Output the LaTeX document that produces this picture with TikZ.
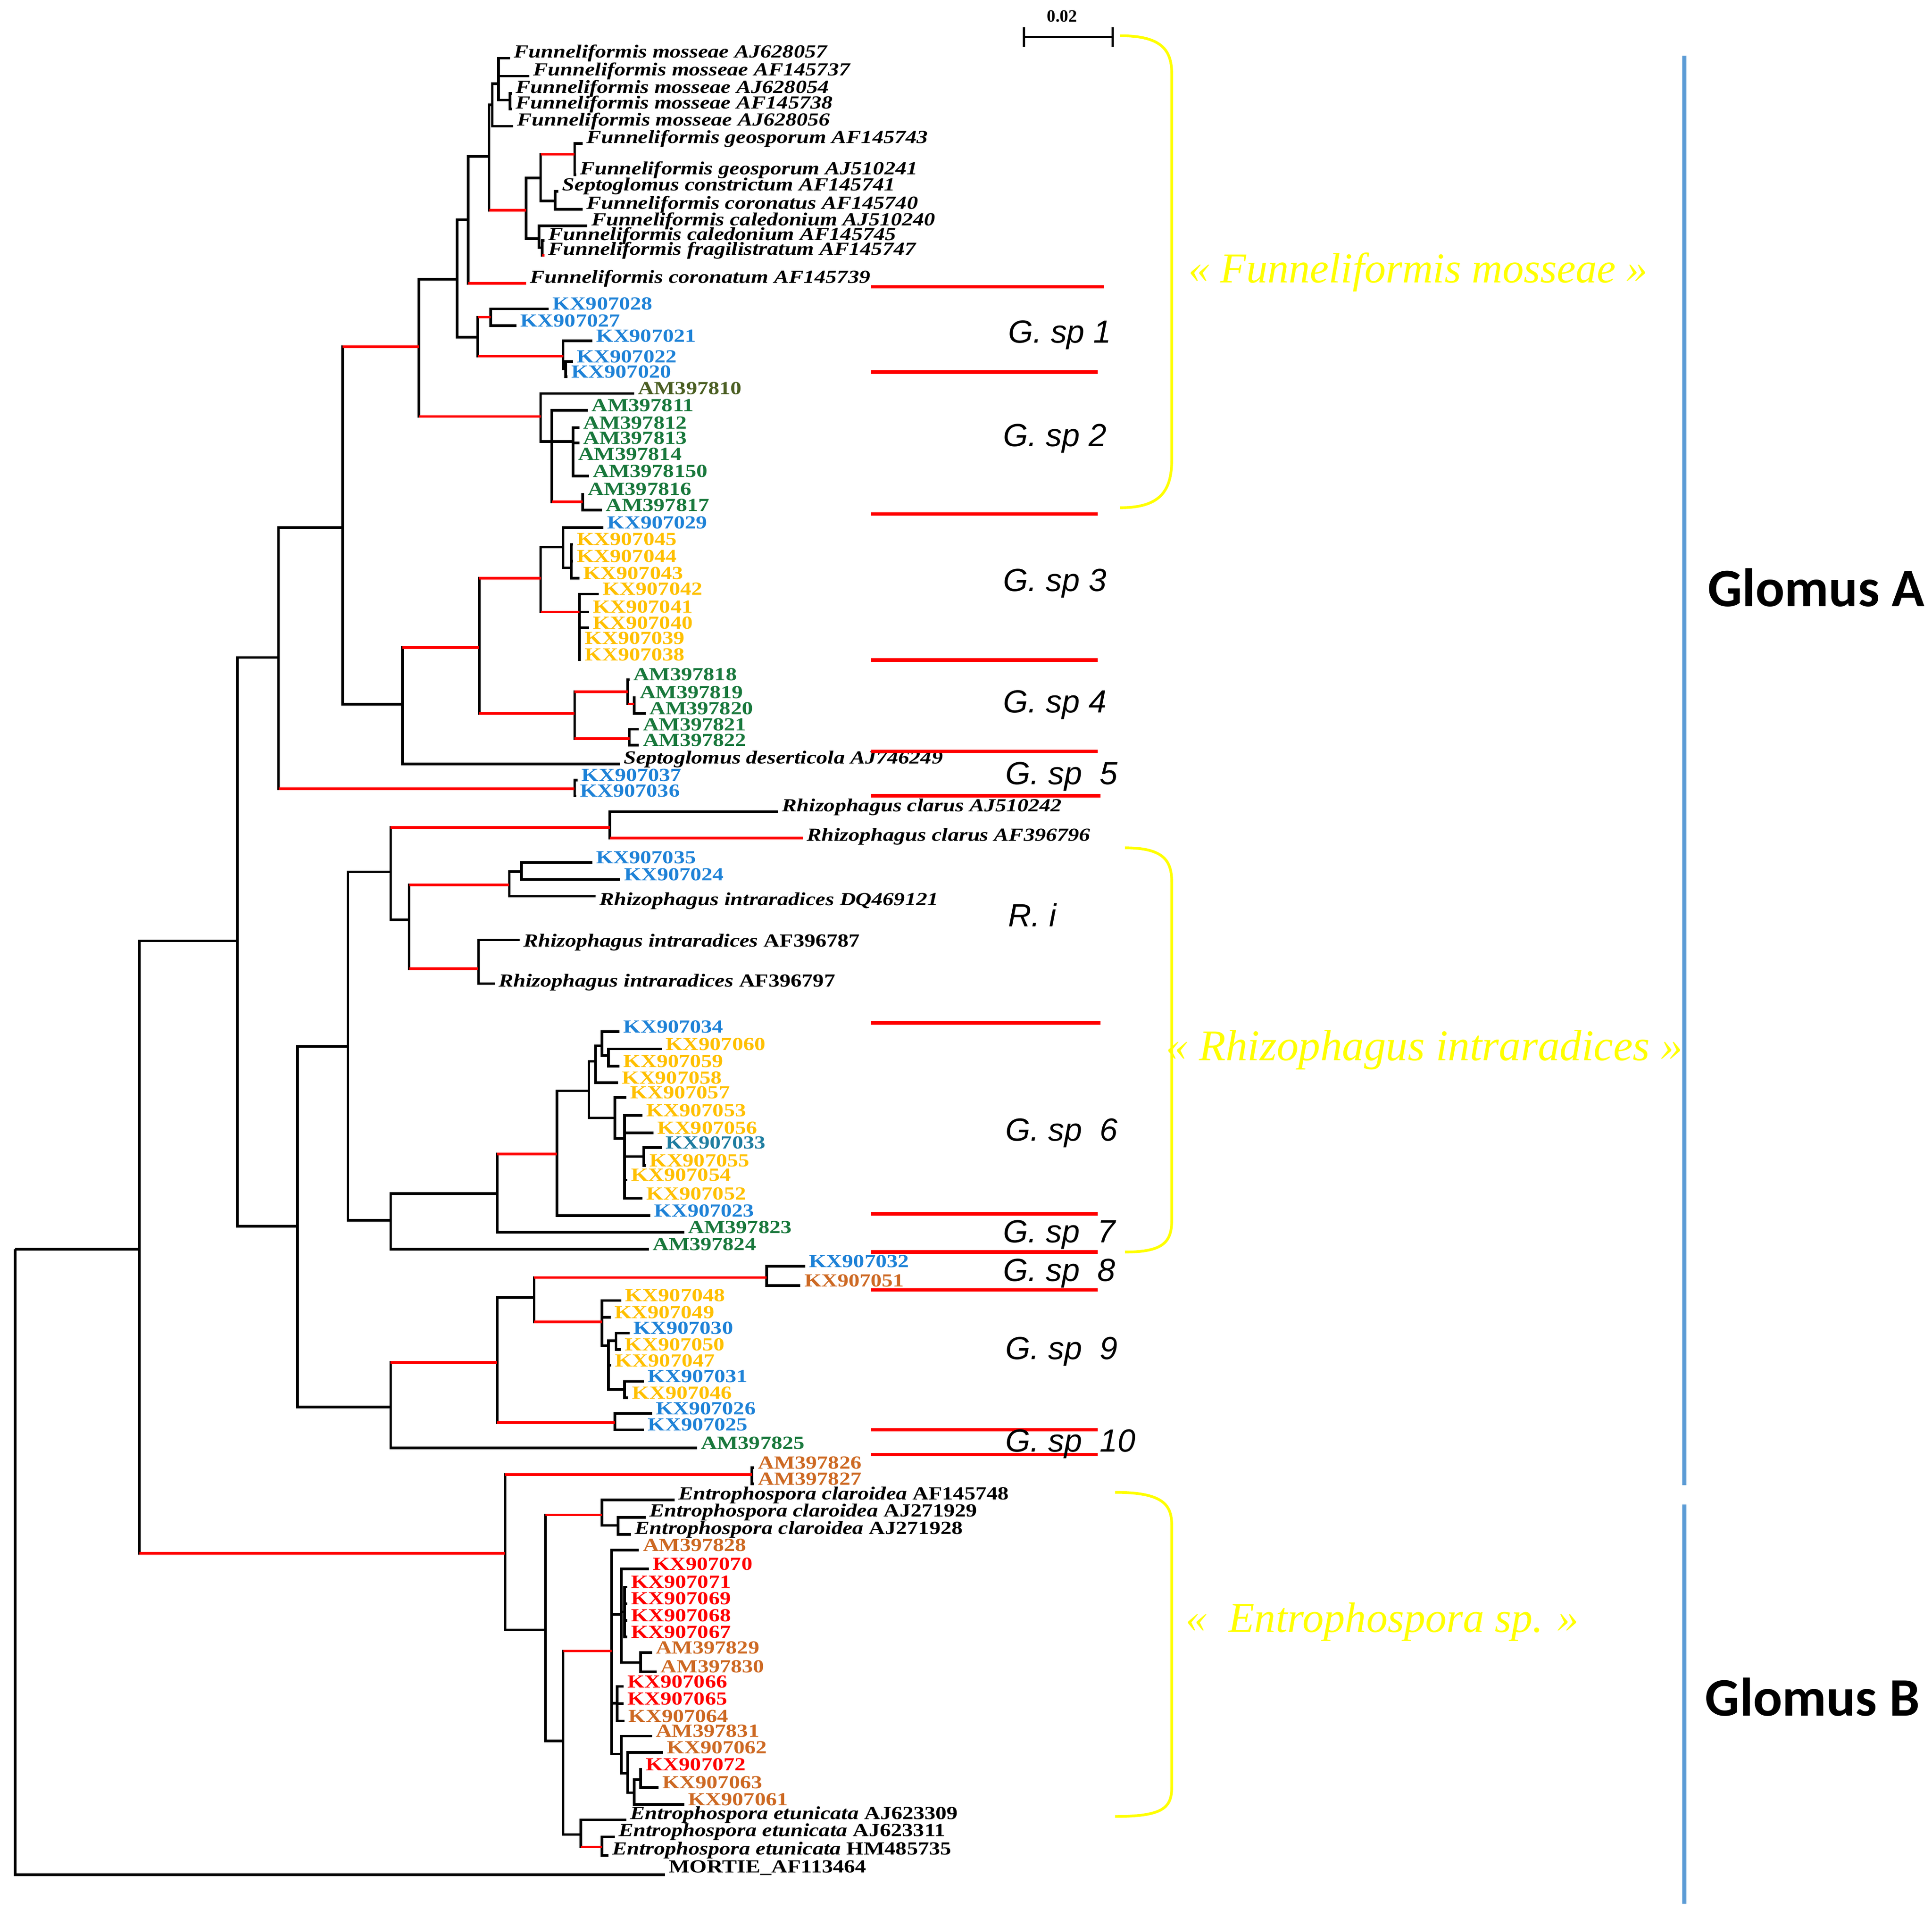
\documentclass[tikz,border=0pt]{standalone}
\usepackage{fontspec}
\usepackage{tikz}
\setmainfont{Liberation Serif}
\newfontfamily\tipfont{Liberation Serif}[FakeStretch=1.2]
\newfontfamily\gspfont{Liberation Sans}
\newfontfamily\glomfont{Carlito}
\definecolor{isoblue}{RGB}{30,130,215}
\definecolor{isoteal}{RGB}{30,125,160}
\definecolor{isoyellow}{RGB}{255,192,0}
\definecolor{isogreen}{RGB}{25,120,60}
\definecolor{isoolive}{RGB}{75,95,35}
\definecolor{isoorange}{RGB}{205,105,35}
\definecolor{isored}{RGB}{255,0,0}
\definecolor{cladeyellow}{RGB}{255,255,0}
\definecolor{groupblue}{RGB}{91,155,213}
\newcommand{\tipsize}{\fontsize{15}{16}\selectfont}
\newcommand{\taxon}[1]{\textit{#1}}
\tikzstyle{branch} = [
    line width=2.1pt,
    draw=black
]
\tikzstyle{hot} = [
    line width=2.1pt,
    draw=red
]
\tikzstyle{tip} = [
    anchor=west,
    inner sep=1pt,
    xshift=2pt,
    yshift=4pt,
    font=\tipfont\bfseries\tipsize
]
\tikzstyle{bluetip} = [tip, text=isoblue]
\tikzstyle{tealtip} = [tip, text=isoteal]
\tikzstyle{yeltip} = [tip, text=isoyellow]
\tikzstyle{greentip} = [tip, text=isogreen]
\tikzstyle{olivetip} = [tip, text=isoolive]
\tikzstyle{orangetip} = [tip, text=isoorange]
\tikzstyle{redtip} = [tip, text=isored]
\tikzstyle{sepline} = [
    line width=2.8pt,
    draw=red
]
\tikzstyle{gsp} = [
    anchor=west,
    inner sep=0pt,
    font=\gspfont\itshape\fontsize{26}{28}\selectfont
]
\tikzstyle{clade} = [
    text=cladeyellow,
    inner sep=0pt,
    font=\itshape\fontsize{34.5}{36}\selectfont
]
\tikzstyle{brace} = [
    line width=2.2pt,
    draw=cladeyellow
]
\tikzstyle{group} = [
    inner sep=0pt,
    font=\glomfont\bfseries\fontsize{44}{48}\selectfont
]
\tikzstyle{groupline} = [
    line width=3.6pt,
    draw=groupblue
]
\tikzstyle{scalebar} = [
    line width=2pt,
    draw=black
]
\begin{document}
\begin{tikzpicture}[x=1pt, y=-1pt]
        \path[use as bounding box, fill=white] (0,0) rectangle (1568,1556.4);

        \coordinate (n01) at (12.4,1013.6);
        \coordinate (n02) at (113,1013.6);
        \coordinate (n03) at (192.5,763.5);
        \coordinate (n04) at (226,533.5);
        \coordinate (n05) at (278,428);
        \coordinate (n06) at (340,281.5);
        \coordinate (n07) at (371,226.5);
        \coordinate (n08) at (380,178.5);
        \coordinate (n09) at (397,127);
        \coordinate (n10) at (399.5,85);
        \coordinate (n11) at (404.7,68);
        \coordinate (n12) at (413.9,81.2);
        \coordinate (n13) at (427,170.5);
        \coordinate (n14) at (438.8,144.5);
        \coordinate (n15) at (466.3,125.2);
        \coordinate (n16) at (450.6,163.2);
        \coordinate (n17) at (437.5,193.8);
        \coordinate (n18) at (440,201);
        \coordinate (n19) at (387.7,273.5);
        \coordinate (n20) at (398.2,257.4);
        \coordinate (n21) at (457.1,289);
        \coordinate (n22) at (459,299.5);
        \coordinate (n23) at (438.8,338);
        \coordinate (n24) at (447.9,358.3);
        \coordinate (n25) at (465,358.3);
        \coordinate (n26) at (472.8,407.2);
        \coordinate (n27) at (326.5,571.5);
        \coordinate (n28) at (389,525.5);
        \coordinate (n29) at (438.8,469.1);
        \coordinate (n30) at (457.1,444);
        \coordinate (n31) at (463.6,460.8);
        \coordinate (n32) at (470.2,496.6);
        \coordinate (n33) at (466.3,578.8);
        \coordinate (n34) at (509.5,561.3);
        \coordinate (n35) at (514.7,571.2);
        \coordinate (n36) at (510.8,599.4);
        \coordinate (n37) at (466.3,640);
        \coordinate (n38) at (241.4,995);
        \coordinate (n39) at (282.3,849);
        \coordinate (n40) at (317,707.5);
        \coordinate (n41) at (495,671.5);
        \coordinate (n42) at (332,746.5);
        \coordinate (n43) at (413.3,718);
        \coordinate (n44) at (423.3,707.3);
        \coordinate (n45) at (388.3,786);
        \coordinate (n46) at (317,990.3);
        \coordinate (n47) at (403.4,968.6);
        \coordinate (n48) at (451.9,936.5);
        \coordinate (n49) at (478,885.2);
        \coordinate (n50) at (483.3,861.2);
        \coordinate (n51) at (488.5,848.5);
        \coordinate (n52) at (493.8,856.5);
        \coordinate (n53) at (499,907.2);
        \coordinate (n54) at (506.9,923.8);
        \coordinate (n55) at (522.6,938.5);
        \coordinate (n56) at (317,1141.7);
        \coordinate (n57) at (403.4,1105.5);
        \coordinate (n58) at (433.5,1052.9);
        \coordinate (n59) at (622.1,1036.7);
        \coordinate (n60) at (488.5,1072.8);
        \coordinate (n61) at (493.8,1092);
        \coordinate (n62) at (500,1088);
        \coordinate (n63) at (506.9,1127.6);
        \coordinate (n64) at (499,1154.4);
        \coordinate (n65) at (410,1260.5);
        \coordinate (n66) at (610.3,1196.5);
        \coordinate (n67) at (442.7,1322.5);
        \coordinate (n68) at (488.5,1229.2);
        \coordinate (n69) at (501.6,1237.8);
        \coordinate (n70) at (457.1,1412.6);
        \coordinate (n71) at (496.4,1339.8);
        \coordinate (n72) at (504.2,1310);
        \coordinate (n73) at (506.9,1308);
        \coordinate (n74) at (520,1349.1);
        \coordinate (n75) at (501,1382);
        \coordinate (n76) at (504.2,1423.3);
        \coordinate (n77) at (509.5,1439);
        \coordinate (n78) at (514.7,1454.7);
        \coordinate (n79) at (520,1444);
        \coordinate (n80) at (471.5,1488.6);
        \coordinate (n81) at (488.5,1498.7);

        \path (414,47.2) coordinate (aj628057) node[tip] (aj628057-l) {\taxon{Funneliformis mosseae AJ628057}};
        \path (429.6,61.8) coordinate (af145737) node[tip] (af145737-l) {\taxon{Funneliformis mosseae AF145737}};
        \path (415.5,75.8) coordinate (aj628054) node[tip] (aj628054-l) {\taxon{Funneliformis mosseae AJ628054}};
        \path (415.5,88.5) coordinate (af145738) node[tip] (af145738-l) {\taxon{Funneliformis mosseae AF145738}};
        \path (416.5,102.5) coordinate (aj628056) node[tip] (aj628056-l) {\taxon{Funneliformis mosseae AJ628056}};
        \path (472.8,116.5) coordinate (af145743) node[tip] (af145743-l) {\taxon{Funneliformis geosporum AF145743}};
        \path (467.5,141.8) coordinate (aj510241) node[tip] (aj510241-l) {\taxon{Funneliformis geosporum AJ510241}};
        \path (453.2,155.2) coordinate (af145741) node[tip] (af145741-l) {\taxon{Septoglomus constrictum AF145741}};
        \path (472.8,169.8) coordinate (af145740) node[tip] (af145740-l) {\taxon{Funneliformis coronatus AF145740}};
        \path (476.8,183.2) coordinate (aj510240) node[tip] (aj510240-l) {\taxon{Funneliformis caledonium AJ510240}};
        \path (442,195.2) coordinate (af145745) node[tip] (af145745-l) {\taxon{Funneliformis caledonium AF145745}};
        \path (442,207.2) coordinate (af145747) node[tip] (af145747-l) {\taxon{Funneliformis fragilistratum AF145747}};
        \path (427,230) coordinate (af145739) node[tip] (af145739-l) {\taxon{Funneliformis coronatum AF145739}};
        \path (445.3,250.6) coordinate (kx28) node[bluetip] (kx28-l) {KX907028};
        \path (419.1,264.2) coordinate (kx27) node[bluetip] (kx27-l) {KX907027};
        \path (480.7,276.6) coordinate (kx21) node[bluetip] (kx21-l) {KX907021};
        \path (465,293.3) coordinate (kx22) node[bluetip] (kx22-l) {KX907022};
        \path (460.5,305.7) coordinate (kx20) node[bluetip] (kx20-l) {KX907020};
        \path (514.7,319.3) coordinate (am10) node[olivetip] (am10-l) {AM397810};
        \path (476.9,332.9) coordinate (am11) node[greentip] (am11-l) {AM397811};
        \path (470.2,347.2) coordinate (am12) node[greentip] (am12-l) {AM397812};
        \path (470.2,359.5) coordinate (am13) node[greentip] (am13-l) {AM397813};
        \path (466,372.5) coordinate (am14) node[greentip] (am14-l) {AM397814};
        \path (478,386.2) coordinate (am150) node[greentip] (am150-l) {AM3978150};
        \path (474,401) coordinate (am16) node[greentip] (am16-l) {AM397816};
        \path (488.5,414) coordinate (am17) node[greentip] (am17-l) {AM397817};
        \path (489.8,428) coordinate (kx29) node[bluetip] (kx29-l) {KX907029};
        \path (465,441.7) coordinate (kx45) node[yeltip] (kx45-l) {KX907045};
        \path (465,455.4) coordinate (kx44) node[yeltip] (kx44-l) {KX907044};
        \path (470.2,469.1) coordinate (kx43) node[yeltip] (kx43-l) {KX907043};
        \path (485.9,482) coordinate (kx42) node[yeltip] (kx42-l) {KX907042};
        \path (478,496.6) coordinate (kx41) node[yeltip] (kx41-l) {KX907041};
        \path (478,509.5) coordinate (kx40) node[yeltip] (kx40-l) {KX907040};
        \path (471.5,521.7) coordinate (kx39) node[yeltip] (kx39-l) {KX907039};
        \path (471.5,535.4) coordinate (kx38) node[yeltip] (kx38-l) {KX907038};
        \path (510.8,551.4) coordinate (am18) node[greentip] (am18-l) {AM397818};
        \path (516,566) coordinate (am19) node[greentip] (am19-l) {AM397819};
        \path (523.9,578.8) coordinate (am20) node[greentip] (am20-l) {AM397820};
        \path (518.6,591.8) coordinate (am21) node[greentip] (am21-l) {AM397821};
        \path (518.6,604.7) coordinate (am22) node[greentip] (am22-l) {AM397822};
        \path (503,620) coordinate (aj746249) node[tip] (aj746249-l) {\taxon{Septoglomus deserticola AJ746249}};
        \path (468.9,633) coordinate (kx37) node[bluetip] (kx37-l) {KX907037};
        \path (467.5,645.9) coordinate (kx36) node[bluetip] (kx36-l) {KX907036};
        \path (631.6,658.8) coordinate (aj510242) node[tip] (aj510242-l) {\taxon{Rhizophagus clarus AJ510242}};
        \path (651.6,680) coordinate (af396796) node[tip, yshift=-3pt] (af396796-l) {\taxon{Rhizophagus clarus AF396796}};
        \path (480.6,699.9) coordinate (kx35) node[bluetip] (kx35-l) {KX907035};
        \path (503.3,713.6) coordinate (kx24) node[bluetip] (kx24-l) {KX907024};
        \path (483.3,727.2) coordinate (dq469121) node[tip, yshift=-8pt] (dq469121-l) {\taxon{Rhizophagus intraradices DQ469121}};
        \path (421.6,762.7) coordinate (af396787) node[tip, yshift=-6pt] (af396787-l) {\taxon{Rhizophagus intraradices} AF396787};
        \path (401.6,798.2) coordinate (af396797) node[tip, yshift=-3pt] (af396797-l) {\taxon{Rhizophagus intraradices} AF396797};
        \path (502.9,837.2) coordinate (kx34) node[bluetip] (kx34-l) {KX907034};
        \path (537,851.2) coordinate (kx60) node[yeltip] (kx60-l) {KX907060};
        \path (502.9,865.2) coordinate (kx59) node[yeltip] (kx59-l) {KX907059};
        \path (501.6,878.5) coordinate (kx58) node[yeltip] (kx58-l) {KX907058};
        \path (508.2,890.5) coordinate (kx57) node[yeltip] (kx57-l) {KX907057};
        \path (521.3,905.2) coordinate (kx53) node[yeltip] (kx53-l) {KX907053};
        \path (530.4,919.2) coordinate (kx56) node[yeltip] (kx56-l) {KX907056};
        \path (537,931.2) coordinate (kx33) node[tealtip] (kx33-l) {KX907033};
        \path (524,945.8) coordinate (kx55) node[yeltip] (kx55-l) {KX907055};
        \path (509,957.5) coordinate (kx54) node[yeltip] (kx54-l) {KX907054};
        \path (521.3,972.5) coordinate (kx52) node[yeltip] (kx52-l) {KX907052};
        \path (527.8,986.5) coordinate (kx23) node[bluetip] (kx23-l) {KX907023};
        \path (555.3,999.8) coordinate (am23) node[greentip] (am23-l) {AM397823};
        \path (526.5,1013.6) coordinate (am24) node[greentip] (am24-l) {AM397824};
        \path (653.5,1027.6) coordinate (kx32) node[bluetip] (kx32-l) {KX907032};
        \path (649.6,1043.3) coordinate (kx51) node[orangetip] (kx51-l) {KX907051};
        \path (504.2,1055.3) coordinate (kx48) node[yeltip] (kx48-l) {KX907048};
        \path (495.5,1069) coordinate (kx49) node[yeltip] (kx49-l) {KX907049};
        \path (510.8,1081.8) coordinate (kx30) node[bluetip] (kx30-l) {KX907030};
        \path (504,1095) coordinate (kx50) node[yeltip] (kx50-l) {KX907050};
        \path (496,1108) coordinate (kx47) node[yeltip] (kx47-l) {KX907047};
        \path (522.6,1121) coordinate (kx31) node[bluetip] (kx31-l) {KX907031};
        \path (510,1134.3) coordinate (kx46) node[yeltip] (kx46-l) {KX907046};
        \path (529.1,1146.9) coordinate (kx26) node[bluetip] (kx26-l) {KX907026};
        \path (522.6,1160.2) coordinate (kx25) node[bluetip] (kx25-l) {KX907025};
        \path (565.8,1175) coordinate (am25) node[greentip] (am25-l) {AM397825};
        \path (612,1191) coordinate (am26) node[orangetip] (am26-l) {AM397826};
        \path (612,1204) coordinate (am27) node[orangetip] (am27-l) {AM397827};
        \path (547.5,1217.2) coordinate (af145748) node[tip] (af145748-l) {\taxon{Entrophospora claroidea} AF145748};
        \path (523.9,1231.2) coordinate (aj271929) node[tip] (aj271929-l) {\taxon{Entrophospora claroidea} AJ271929};
        \path (512.1,1245.2) coordinate (aj271928) node[tip] (aj271928-l) {\taxon{Entrophospora claroidea} AJ271928};
        \path (518.6,1257.8) coordinate (am28) node[orangetip] (am28-l) {AM397828};
        \path (526.5,1273.1) coordinate (kx70) node[redtip] (kx70-l) {KX907070};
        \path (509,1287.8) coordinate (kx71) node[redtip] (kx71-l) {KX907071};
        \path (509,1301.3) coordinate (kx69) node[redtip] (kx69-l) {KX907069};
        \path (509,1314.8) coordinate (kx68) node[redtip] (kx68-l) {KX907068};
        \path (509,1328.3) coordinate (kx67) node[redtip] (kx67-l) {KX907067};
        \path (529.1,1341.1) coordinate (am29) node[orangetip] (am29-l) {AM397829};
        \path (533.1,1356.5) coordinate (am30) node[orangetip] (am30-l) {AM397830};
        \path (506,1368.5) coordinate (kx66) node[redtip] (kx66-l) {KX907066};
        \path (506,1382.5) coordinate (kx65) node[redtip] (kx65-l) {KX907065};
        \path (507,1396.5) coordinate (kx64) node[orangetip] (kx64-l) {KX907064};
        \path (529.1,1408.8) coordinate (am31) node[orangetip] (am31-l) {AM397831};
        \path (538.3,1422) coordinate (kx62) node[orangetip] (kx62-l) {KX907062};
        \path (521,1435.9) coordinate (kx72) node[redtip] (kx72-l) {KX907072};
        \path (534.4,1450.3) coordinate (kx63) node[orangetip] (kx63-l) {KX907063};
        \path (555.3,1464.1) coordinate (kx61) node[orangetip] (kx61-l) {KX907061};
        \path (508.2,1476.7) coordinate (aj623309) node[tip] (aj623309-l) {\taxon{Entrophospora etunicata} AJ623309};
        \path (499,1490.5) coordinate (aj623311) node[tip] (aj623311-l) {\taxon{Entrophospora etunicata} AJ623311};
        \path (493.8,1505.6) coordinate (hm485735) node[tip] (hm485735-l) {\taxon{Entrophospora etunicata} HM485735};
        \path (539.6,1521.3) coordinate (mortie) node[tip, yshift=1.5pt] (mortie-l) {MORTIE\_AF113464};

        \draw[branch] (n01) |- (n02) (n01) |- (mortie);
        \draw[branch] (n02) |- (n03) (n02) |- (n65);
        \draw[branch] (n03) |- (n04) (n03) |- (n38);
        \draw[branch] (n04) |- (n05) (n04) |- (n37);
        \draw[branch] (n05) |- (n06) (n05) |- (n27);
        \draw[branch] (n06) |- (n07) (n06) |- (n23);
        \draw[branch] (n07) |- (n08) (n07) |- (n19);
        \draw[branch] (n08) |- (n09) (n08) |- (af145739);
        \draw[branch] (n09) |- (n10) (n09) |- (n13);
        \draw[branch] (n10) |- (n11) (n10) |- (aj628056);
        \draw[branch] (n11) |- (aj628057) (n11) |- (af145737) (n11) |- (n12);
        \draw[branch] (n12) |- (aj628054) (n12) |- (af145738);
        \draw[branch] (n13) |- (n14) (n13) |- (n17);
        \draw[branch] (n14) |- (n15) (n14) |- (n16);
        \draw[branch] (n15) |- (af145743) (n15) |- (aj510241);
        \draw[branch] (n16) |- (af145741) (n16) |- (af145740);
        \draw[branch] (n17) |- (aj510240) (n17) |- (n18);
        \draw[branch] (n18) |- (af145745) (n18) |- (af145747);
        \draw[branch] (n19) |- (n20) (n19) |- (n21);
        \draw[branch] (n20) |- (kx28) (n20) |- (kx27);
        \draw[branch] (n21) |- (kx21) (n21) |- (n22);
        \draw[branch] (n22) |- (kx22) (n22) |- (kx20);
        \draw[branch] (n23) |- (am10) (n23) |- (n24);
        \draw[branch] (n24) |- (am11) (n24) |- (n25) (n24) |- (n26);
        \draw[branch] (n25) |- (am12) (n25) |- (am13) (n25) |- (am14) (n25) |- (am150);
        \draw[branch] (n26) |- (am16) (n26) |- (am17);
        \draw[branch] (n27) |- (n28) (n27) |- (aj746249);
        \draw[branch] (n28) |- (n29) (n28) |- (n33);
        \draw[branch] (n29) |- (n30) (n29) |- (n32);
        \draw[branch] (n30) |- (kx29) (n30) |- (n31);
        \draw[branch] (n31) |- (kx45) (n31) |- (kx44) (n31) |- (kx43);
        \draw[branch] (n32) |- (kx42) (n32) |- (kx41) (n32) |- (kx40) (n32) |- (kx39) (n32) |- (kx38);
        \draw[branch] (n33) |- (n34) (n33) |- (n36);
        \draw[branch] (n34) |- (am18) (n34) |- (n35);
        \draw[branch] (n35) |- (am19) (n35) |- (am20);
        \draw[branch] (n36) |- (am21) (n36) |- (am22);
        \draw[branch] (n37) |- (kx37) (n37) |- (kx36);
        \draw[branch] (n38) |- (n39) (n38) |- (n56);
        \draw[branch] (n39) |- (n40) (n39) |- (n46);
        \draw[branch] (n40) |- (n41) (n40) |- (n42);
        \draw[branch] (n41) |- (aj510242) (n41) |- (af396796);
        \draw[branch] (n42) |- (n43) (n42) |- (n45);
        \draw[branch] (n43) |- (n44) (n43) |- (dq469121);
        \draw[branch] (n44) |- (kx35) (n44) |- (kx24);
        \draw[branch] (n45) |- (af396787) (n45) |- (af396797);
        \draw[branch] (n46) |- (n47) (n46) |- (am24);
        \draw[branch] (n47) |- (n48) (n47) |- (am23);
        \draw[branch] (n48) |- (n49) (n48) |- (kx23);
        \draw[branch] (n49) |- (n50) (n49) |- (n53);
        \draw[branch] (n50) |- (n51) (n50) |- (kx58);
        \draw[branch] (n51) |- (kx34) (n51) |- (n52);
        \draw[branch] (n52) |- (kx60) (n52) |- (kx59);
        \draw[branch] (n53) |- (kx57) (n53) |- (n54);
        \draw[branch] (n54) |- (kx53) (n54) |- (kx56) (n54) |- (n55) (n54) |- (kx54) (n54) |- (kx52);
        \draw[branch] (n55) |- (kx33) (n55) |- (kx55);
        \draw[branch] (n56) |- (n57) (n56) |- (am25);
        \draw[branch] (n57) |- (n58) (n57) |- (n64);
        \draw[branch] (n58) |- (n59) (n58) |- (n60);
        \draw[branch] (n59) |- (kx32) (n59) |- (kx51);
        \draw[branch] (n60) |- (kx48) (n60) |- (kx49) (n60) |- (n61);
        \draw[branch] (n61) |- (n62) (n61) |- (kx47) (n61) |- (n63);
        \draw[branch] (n62) |- (kx30) (n62) |- (kx50);
        \draw[branch] (n63) |- (kx31) (n63) |- (kx46);
        \draw[branch] (n64) |- (kx26) (n64) |- (kx25);
        \draw[branch] (n65) |- (n66) (n65) |- (n67);
        \draw[branch] (n66) |- (am26) (n66) |- (am27);
        \draw[branch] (n67) |- (n68) (n67) |- (n70);
        \draw[branch] (n68) |- (af145748) (n68) |- (n69);
        \draw[branch] (n69) |- (aj271929) (n69) |- (aj271928);
        \draw[branch] (n70) |- (n71) (n70) |- (n80);
        \draw[branch] (n71) |- (am28) (n71) |- (n72) (n71) |- (n75) (n71) |- (n76);
        \draw[branch] (n72) |- (kx70) (n72) |- (n73) (n72) |- (n74);
        \draw[branch] (n73) |- (kx71) (n73) |- (kx69) (n73) |- (kx68) (n73) |- (kx67);
        \draw[branch] (n74) |- (am29) (n74) |- (am30);
        \draw[branch] (n75) |- (kx66) (n75) |- (kx65) (n75) |- (kx64);
        \draw[branch] (n76) |- (am31) (n76) |- (n77);
        \draw[branch] (n77) |- (kx62) (n77) |- (n78);
        \draw[branch] (n78) |- (n79) (n78) |- (kx61);
        \draw[branch] (n79) |- (kx72) (n79) |- (kx63);
        \draw[branch] (n80) |- (aj623309) (n80) |- (n81);
        \draw[branch] (n81) |- (aj623311) (n81) |- (hm485735);

        \draw[hot] (n02 |- n65) -- (n65);
        \draw[hot] (n04 |- n37) -- (n37);
        \draw[hot] (n05 |- n06) -- (n06);
        \draw[hot] (n06 |- n23) -- (n23);
        \draw[hot] (n08 |- af145739) -- (af145739);
        \draw[hot] (n09 |- n13) -- (n13);
        \draw[hot] (n14 |- n15) -- (n15);
        \draw[hot] (n18 |- af145747) -- (af145747);
        \draw[hot] (n19 |- n20) -- (n20);
        \draw[hot] (n19 |- n21) -- (n21);
        \draw[hot] (n24 |- n26) -- (n26);
        \draw[hot] (n27 |- n28) -- (n28);
        \draw[hot] (n28 |- n29) -- (n29);
        \draw[hot] (n28 |- n33) -- (n33);
        \draw[hot] (n29 |- n32) -- (n32);
        \draw[hot] (n33 |- n34) -- (n34);
        \draw[hot] (n33 |- n36) -- (n36);
        \draw[hot] (n34 |- n35) -- (n35);
        \draw[hot] (n40 |- n41) -- (n41);
        \draw[hot] (n41 |- af396796) -- (af396796);
        \draw[hot] (n42 |- n43) -- (n43);
        \draw[hot] (n42 |- n45) -- (n45);
        \draw[hot] (n47 |- n48) -- (n48);
        \draw[hot] (n56 |- n57) -- (n57);
        \draw[hot] (n57 |- n64) -- (n64);
        \draw[hot] (n58 |- n59) -- (n59);
        \draw[hot] (n58 |- n60) -- (n60);
        \draw[hot] (n65 |- n66) -- (n66);
        \draw[hot] (n67 |- n68) -- (n68);
        \draw[hot] (n70 |- n71) -- (n71);
        \draw[hot] (n80 |- n81) -- (n81);

        \coordinate (sbl) at (831,30);
        \coordinate (sbr) at (903,30);
        \draw[scalebar] (sbl) -- (sbr);
        \draw[scalebar] ([yshift=8pt]sbl) -- ([yshift=-8pt]sbl);
        \draw[scalebar] ([yshift=8pt]sbr) -- ([yshift=-8pt]sbr);
        \node[font=\bfseries\fontsize{14}{14}\selectfont] (scale) at (862,13) {0.02};

        \draw[sepline] (707,232.7) -- (896,232.7) (707,302) -- (891,302) (707,417) -- (891,417)
            (707,535.6) -- (891,535.6) (707,609.7) -- (891,609.7) (707,645.7) -- (893,645.7)
            (707,830) -- (893,830) (707,985) -- (891,985) (707,1016) -- (891,1016)
            (707,1046.7) -- (891,1046.7) (707,1160.2) -- (891,1160.2) (707,1180.4) -- (891,1180.4);

        \node[gsp] (gsp1) at (818,272) {G. sp 1};
        \node[gsp] (gsp2) at (814,356) {G. sp 2};
        \node[gsp] (gsp3) at (814,473.5) {G. sp 3};
        \node[gsp] (gsp4) at (814,572) {G. sp 4};
        \node[gsp] (gsp5) at (816,630) {G. sp\ \ 5};
        \node[gsp] (ri) at (818,742.5) {R. i};
        \node[gsp] (gsp6) at (816,919.4) {G. sp\ \ 6};
        \node[gsp] (gsp7) at (814,1001.8) {G. sp\ \ 7};
        \node[gsp] (gsp8) at (814,1033.4) {G. sp\ \ 8};
        \node[gsp] (gsp9) at (816,1096.8) {G. sp\ \ 9};
        \node[gsp] (gsp10) at (816,1171.7) {G. sp\ \ 10};

        \draw[brace] (909,29) .. controls (942,29) and (951,40) .. (951,60) -- (951,373)
            .. controls (951,400) and (940,412) .. (909,412);
        \draw[brace] (913,688) .. controls (944,688) and (951,698) .. (951,716) -- (951,990)
            .. controls (951,1008) and (944,1016) .. (913,1016);
        \draw[brace] (905,1211) .. controls (944,1211) and (951,1221) .. (951,1238) -- (951,1450)
            .. controls (951,1467) and (944,1474) .. (905,1474);

        \node[clade] (fmclade) at (1151,221) {« Funneliformis mosseae »};
        \node[clade, font=\itshape\fontsize{35.5}{38}\selectfont] (riclade) at (1156,852) {« Rhizophagus intraradices »};
        \node[clade] (enclade) at (1122,1316) {«\ \ Entrophospora sp. »};

        \coordinate (gatop) at (1367,45);
        \coordinate (gabot) at (1367,1205);
        \coordinate (gbtop) at (1367,1221);
        \coordinate (gbbot) at (1367,1545);
        \draw[groupline] (gatop) -- (gabot);
        \draw[groupline] (gbtop) -- (gbbot);
        \node[group] (glomA) at (1474,477) {Glomus A};
        \node[group] (glomB) at (1471,1377) {Glomus B};
    \end{tikzpicture}
\end{document}
